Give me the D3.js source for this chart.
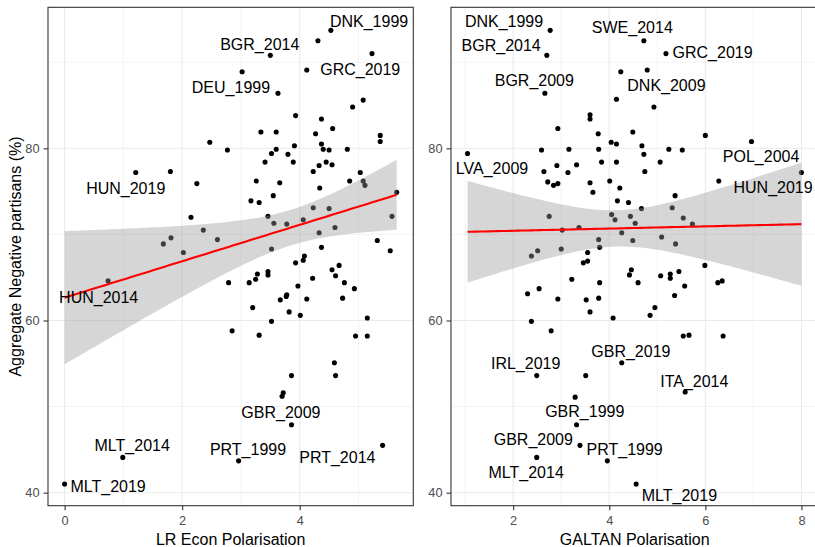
<!DOCTYPE html>
<html><head><meta charset="utf-8">
<script src="https://cdn.jsdelivr.net/npm/d3@7"></script>
<style>body{margin:0;background:#fff}svg{display:block}</style>
</head><body><svg id="c" width="815" height="547"></svg>
<script>
// ---------- data ----------
const lrEcon = [4.53,4.31,5.23,3.50,3.02,4.12,3.63,5.08,4.90,3.93,4.37,4.56,3.34,3.60,4.27,5.37,5.37,2.47,4.37,3.91,
2.77,3.60,4.40,4.50,4.81,3.52,3.80,3.41,3.89,4.45,4.33,4.55,1.21,1.80,4.23,5.03,2.25,3.26,3.66,4.85,
5.08,5.11,4.34,5.65,3.17,3.31,3.55,4.23,4.50,5.57,2.15,3.46,3.56,3.78,4.06,4.33,4.60,2.36,1.81,1.68,
2.60,5.32,3.52,4.37,2.02,5.54,4.08,4.06,3.93,4.55,4.67,3.46,3.46,3.28,3.25,0.74,2.79,3.14,4.22,4.61,
4.76,3.97,4.93,3.78,3.77,3.67,4.12,4.73,3.20,3.82,4.01,5.15,3.52,2.85,3.31,4.95,5.15,4.59,4.61,3.86,
3.72,3.70,3.86,5.41,0.99,2.96,0.00];
const lrNeg = [93.7,92.5,91.0,90.8,88.9,89.1,86.4,85.6,84.8,83.8,83.4,82.3,81.9,81.9,81.7,81.5,80.8,80.7,80.5,80.3,
79.8,79.9,79.9,79.8,79.9,79.4,79.3,78.4,78.4,78.4,78.0,78.1,77.2,77.3,77.3,77.2,75.9,76.2,76.0,76.2,
76.2,75.7,75.4,74.9,73.9,73.7,74.5,73.1,73.0,72.1,72.0,72.1,71.3,71.2,71.7,70.2,70.8,70.5,69.6,68.9,
69.4,69.3,68.3,68.5,67.9,68.1,67.5,67.0,66.7,65.9,66.4,65.7,65.3,65.4,64.8,64.6,64.4,64.4,64.9,65.2,
64.4,64.0,63.7,63.0,62.8,62.4,62.5,62.6,61.5,61.0,60.6,60.3,59.9,58.8,58.3,58.2,58.2,55.1,53.6,53.6,
51.6,51.2,47.9,45.5,44.1,43.7,41.0];

const galtan = [2.77,2.70,4.72,5.18,4.24,4.79,2.66,4.15,4.93,3.60,3.60,2.93,4.49,6.00,3.77,4.04,4.15,6.96,1.05,2.59,
3.16,3.78,4.68,4.72,5.24,5.52,2.91,3.32,3.84,4.15,5.06,2.64,3.14,4.74,8.00,2.72,2.84,2.93,3.60,3.66,
4.01,4.22,6.28,4.17,4.40,5.37,4.67,5.31,2.75,4.05,4.12,4.44,4.54,5.54,5.73,3.37,3.02,4.26,3.78,4.49,
5.09,5.38,3.80,3.00,2.51,2.38,3.55,3.46,3.55,5.99,4.46,4.42,5.07,5.27,5.27,5.45,3.22,3.80,4.60,6.26,
6.35,5.57,2.30,2.54,2.93,3.52,3.78,5.36,3.60,4.95,4.85,4.08,2.38,2.79,5.54,5.66,6.37,4.26,3.51,2.49,
3.29,5.58,3.32,3.39,2.49,3.96,4.56];
const galNeg = [93.7,90.8,92.5,91.0,88.9,89.1,86.4,85.7,84.8,83.9,83.4,82.3,81.9,81.5,81.7,80.7,80.5,80.8,79.4,79.8,
79.9,79.9,80.3,79.3,79.9,79.8,78.0,78.1,78.4,78.4,78.4,77.3,77.2,77.3,77.2,76.1,75.7,75.9,76.0,74.9,
76.2,75.4,76.2,73.9,73.7,74.5,73.0,73.1,72.1,72.3,71.7,72.1,71.3,71.9,71.2,70.8,70.5,70.2,69.4,69.3,
69.7,68.9,68.5,68.3,68.1,67.5,67.9,66.7,66.9,66.4,65.9,65.3,65.2,65.4,64.9,65.7,64.8,64.4,64.4,64.4,
64.6,64.0,63.1,63.7,62.5,62.4,62.6,62.9,61.0,61.5,60.6,60.3,59.9,58.8,58.2,58.3,58.2,55.1,53.6,53.6,
51.1,51.7,47.9,45.5,44.1,43.7,41.0];

// labels (ggrepel placements, data units)
const lrLabelText = ["DNK_1999","BGR_2014","GRC_2019","DEU_1999","HUN_2019","HUN_2014","GBR_2009","MLT_2014","PRT_1999","PRT_2014","MLT_2019"];
const lrLabelX    = [5.18,3.32,5.03,2.83,1.04,0.58,3.68,1.15,3.12,4.64,0.74];
const lrLabelY    = [94.8,92.1,89.2,87.1,75.4,62.7,49.3,45.5,45.1,44.1,40.8];

const galLabelText = ["DNK_1999","BGR_2014","SWE_2014","GRC_2019","BGR_2009","DNK_2009","LVA_2009","POL_2004","HUN_2019",
  "GBR_2019","IRL_2019","ITA_2014","GBR_1999","GBR_2009","PRT_1999","MLT_2014","MLT_2019"];
const galLabelX = [1.81,1.75,4.48,6.15,2.44,5.19,1.56,7.16,7.41,4.45,2.26,5.77,3.49,2.42,4.32,2.27,5.46];
const galLabelY = [94.8,92.0,94.1,91.2,87.9,87.3,77.7,79.1,75.5,56.4,55.0,53.0,49.5,46.2,45.0,42.4,39.7];

const yMajor = [40,60,80], yMinor = [50,70,90];
const lrMajor = [0,2,4], lrMinor = [1,3,5];
const galMajor = [2,4,6,8], galMinor = [1,3,5,7];
const yTitle = "Aggregate Negative partisans (%)";
const lrTitle = "LR Econ Polarisation", galTitle = "GALTAN Polarisation";
const tCrit = 1.9828; // t(0.975, df = n-2)

// ---------- layout ----------
const svg = d3.select("#c");
const font = "'Liberation Sans', Arial, sans-serif";
const pTop = 7.3, pBottom = 505.7;
const y = d3.scaleLinear().domain([38.49, 96.38]).range([pBottom, pTop]);

function lm(xs, ys){
  const n = xs.length, mx = d3.mean(xs), my = d3.mean(ys);
  let sxx=0, sxy=0; for(let i=0;i<n;i++){sxx+=(xs[i]-mx)**2; sxy+=(xs[i]-mx)*(ys[i]-my);}
  const b = sxy/sxx, a = my - b*mx;
  let sse=0; for(let i=0;i<n;i++){sse+=(ys[i]-a-b*xs[i])**2;}
  const s = Math.sqrt(sse/(n-2));
  const [lo,hi] = d3.extent(xs);
  return d3.range(80).map(k=>{
    const xv = lo + (hi-lo)*k/79, f = a+b*xv;
    const se = s*Math.sqrt(1/n + (xv-mx)**2/sxx);
    return {x:xv, f, lo:f-tCrit*se, hi:f+tCrit*se};
  });
}

function panel(id, x0, x1, xDomain, xs, ys, major, minor, labT, labX, labY, title){
  const x = d3.scaleLinear().domain(xDomain).range([x0, x1]);
  const g = svg.append("g");
  g.append("clipPath").attr("id","clip"+id).append("rect")
    .attr("x",x0).attr("y",pTop).attr("width",x1-x0).attr("height",pBottom-pTop);
  const p = g.append("g").attr("clip-path",`url(#clip${id})`);
  // grid
  p.selectAll(".gmx").data(minor).join("line").attr("x1",d=>x(d)).attr("x2",d=>x(d)).attr("y1",pTop).attr("y2",pBottom)
    .attr("stroke","#EBEBEB").attr("stroke-width",0.6);
  p.selectAll(".gmy").data(yMinor).join("line").attr("y1",d=>y(d)).attr("y2",d=>y(d)).attr("x1",x0).attr("x2",x1)
    .attr("stroke","#EBEBEB").attr("stroke-width",0.6);
  p.selectAll(".gMx").data(major).join("line").attr("x1",d=>x(d)).attr("x2",d=>x(d)).attr("y1",pTop).attr("y2",pBottom)
    .attr("stroke","#EBEBEB").attr("stroke-width",1.1);
  p.selectAll(".gMy").data(yMajor).join("line").attr("y1",d=>y(d)).attr("y2",d=>y(d)).attr("x1",x0).attr("x2",x1)
    .attr("stroke","#EBEBEB").attr("stroke-width",1.1);
  // points
  p.selectAll(".pt").data(xs.map((v,i)=>[v,ys[i]])).join("circle")
    .attr("cx",d=>x(d[0])).attr("cy",d=>y(d[1])).attr("r",2.55).attr("fill","#000");
  // smooth
  const fit = lm(xs, ys);
  p.append("path").datum(fit).attr("d", d3.area().x(d=>x(d.x)).y0(d=>y(d.lo)).y1(d=>y(d.hi)))
    .attr("fill","#999999").attr("fill-opacity",0.4);
  p.append("path").datum(fit).attr("d", d3.line().x(d=>x(d.x)).y(d=>y(d.f)))
    .attr("fill","none").attr("stroke","#FF0000").attr("stroke-width",2.1);
  // labels
  p.selectAll(".lab").data(labT.map((t,i)=>[t,labX[i],labY[i]])).join("text")
    .attr("x",d=>x(d[1])).attr("y",d=>y(d[2])).attr("dy","0.36em").attr("text-anchor","middle")
    .attr("font-family",font).attr("font-size",16).attr("fill","#000").text(d=>d[0]);
  // border
  g.append("rect").attr("x",x0).attr("y",pTop).attr("width",x1-x0).attr("height",pBottom-pTop)
    .attr("fill","none").attr("stroke","#333333").attr("stroke-width",1.1);
  // axes
  const ax = g.append("g").attr("transform",`translate(0,${pBottom})`)
    .call(d3.axisBottom(x).tickValues(major).tickSize(4.5).tickPadding(5.5).tickFormat(d3.format("d")));
  const ay = g.append("g").attr("transform",`translate(${x0},0)`)
    .call(d3.axisLeft(y).tickValues(yMajor).tickSize(4.5).tickPadding(4));
  [ax,ay].forEach(a=>{
    a.select(".domain").remove();
    a.selectAll(".tick line").attr("stroke","#333333").attr("stroke-width",1.1);
    a.selectAll(".tick text").attr("fill","#4D4D4D").attr("font-family",font).attr("font-size",12.8);
  });
  g.append("text").attr("x",(x0+x1)/2).attr("y",545).attr("text-anchor","middle")
    .attr("font-family",font).attr("font-size",16).attr("fill","#000").text(title);
}

panel("L", 48, 413.3, [-0.2825, 5.9325], lrEcon, lrNeg, lrMajor, lrMinor, lrLabelText, lrLabelX, lrLabelY, lrTitle);
panel("R", 451, 818.4, [0.706, 8.353], galtan, galNeg, galMajor, galMinor, galLabelText, galLabelX, galLabelY, galTitle);

svg.append("text").attr("transform",`translate(15.5,${(pTop+pBottom)/2}) rotate(-90)`).attr("dy","0.36em")
  .attr("text-anchor","middle").attr("font-family",font).attr("font-size",16).attr("fill","#000").text(yTitle);
</script></body></html>
